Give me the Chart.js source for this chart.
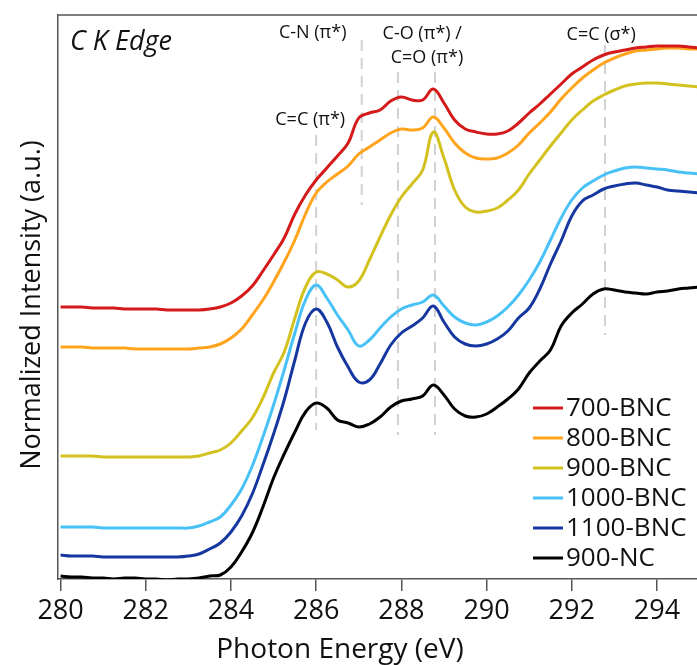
<!DOCTYPE html>
<html>
<head>
<meta charset="utf-8">
<script src="https://cdn.jsdelivr.net/npm/chart.js@4.4.1/dist/chart.umd.min.js"></script>
<style>
  body { margin: 0; background: #fff; }
</style>
</head>
<body>
<canvas id="grafico" width="697" height="665"></canvas>
<script>
// eixo x (eV)
const energia = [280, 280.25, 280.5, 280.75, 281, 281.25, 281.5, 281.75, 282, 282.25, 282.5, 282.75, 283, 283.25, 283.5, 283.75,
  284, 284.25, 284.5, 284.75, 285, 285.25, 285.5, 285.75, 286, 286.25, 286.5, 286.75, 287, 287.25, 287.5, 287.75,
  288, 288.25, 288.5, 288.75, 289, 289.25, 289.5, 289.75, 290, 290.25, 290.5, 290.75, 291, 291.25, 291.5, 291.75,
  292, 292.25, 292.5, 292.75, 293, 293.25, 293.5, 293.75, 294, 294.25, 294.5, 294.75, 295];

// intensidade normalizada (com deslocamento vertical)
const bnc700 = [2.72, 2.72, 2.72, 2.71, 2.71, 2.71, 2.70, 2.70, 2.70, 2.70, 2.69, 2.69, 2.69, 2.69, 2.70, 2.72,
  2.76, 2.83, 2.93, 3.08, 3.24, 3.41, 3.65, 3.84, 3.99, 4.11, 4.23, 4.36, 4.61, 4.66, 4.69, 4.78,
  4.82, 4.79, 4.79, 4.90, 4.76, 4.59, 4.50, 4.47, 4.45, 4.45, 4.48, 4.56, 4.66, 4.75, 4.85, 4.95,
  5.05, 5.12, 5.19, 5.24, 5.27, 5.29, 5.31, 5.32, 5.33, 5.33, 5.33, 5.32, 5.31];
const bnc800 = [2.32, 2.32, 2.32, 2.31, 2.31, 2.31, 2.31, 2.30, 2.30, 2.30, 2.30, 2.30, 2.30, 2.31, 2.32, 2.35,
  2.41, 2.50, 2.64, 2.79, 2.97, 3.17, 3.39, 3.65, 3.86, 3.97, 4.05, 4.13, 4.25, 4.32, 4.39, 4.46,
  4.50, 4.49, 4.51, 4.62, 4.51, 4.36, 4.26, 4.21, 4.20, 4.21, 4.26, 4.34, 4.46, 4.56, 4.67, 4.80,
  4.91, 5.01, 5.09, 5.16, 5.21, 5.25, 5.28, 5.29, 5.30, 5.31, 5.31, 5.30, 5.30];
const bnc900 = [1.23, 1.23, 1.23, 1.23, 1.22, 1.22, 1.22, 1.22, 1.22, 1.22, 1.22, 1.22, 1.22, 1.23, 1.26, 1.29,
  1.36, 1.48, 1.61, 1.81, 2.06, 2.27, 2.61, 2.92, 3.07, 3.05, 2.99, 2.92, 2.98, 3.19, 3.42, 3.64,
  3.82, 3.95, 4.09, 4.47, 4.21, 3.89, 3.72, 3.67, 3.68, 3.71, 3.79, 3.89, 4.05, 4.19, 4.33, 4.46,
  4.59, 4.69, 4.78, 4.84, 4.89, 4.93, 4.95, 4.96, 4.96, 4.95, 4.94, 4.93, 4.92];
const bnc1000 = [0.52, 0.52, 0.52, 0.52, 0.51, 0.51, 0.51, 0.51, 0.51, 0.51, 0.51, 0.51, 0.51, 0.53, 0.57, 0.62,
  0.74, 0.90, 1.13, 1.42, 1.74, 2.09, 2.46, 2.79, 2.94, 2.81, 2.64, 2.49, 2.33, 2.39, 2.51, 2.62,
  2.70, 2.74, 2.77, 2.84, 2.73, 2.62, 2.56, 2.54, 2.57, 2.63, 2.72, 2.84, 2.99, 3.17, 3.39, 3.61,
  3.79, 3.91, 3.98, 4.04, 4.08, 4.11, 4.12, 4.11, 4.10, 4.09, 4.07, 4.06, 4.05];
const bnc1100 = [0.24, 0.23, 0.23, 0.23, 0.22, 0.22, 0.22, 0.22, 0.22, 0.22, 0.22, 0.22, 0.23, 0.25, 0.30, 0.36,
  0.47, 0.63, 0.85, 1.14, 1.45, 1.79, 2.19, 2.56, 2.70, 2.57, 2.32, 2.12, 1.97, 1.99, 2.15, 2.34,
  2.46, 2.53, 2.61, 2.73, 2.57, 2.42, 2.35, 2.33, 2.35, 2.40, 2.48, 2.61, 2.71, 2.90, 3.15, 3.38,
  3.63, 3.78, 3.84, 3.90, 3.93, 3.95, 3.96, 3.94, 3.92, 3.89, 3.88, 3.87, 3.86];
const nc900 = [0.03, 0.02, 0.02, 0.01, 0.01, 0.00, 0.01, 0.01, 0.00, 0.00, -0.01, 0.00, 0.00, 0.01, 0.03, 0.04,
  0.12, 0.27, 0.46, 0.72, 1.01, 1.25, 1.47, 1.67, 1.76, 1.71, 1.59, 1.56, 1.52, 1.55, 1.62, 1.72,
  1.78, 1.80, 1.83, 1.94, 1.84, 1.70, 1.63, 1.62, 1.65, 1.72, 1.80, 1.90, 2.06, 2.18, 2.29, 2.53,
  2.66, 2.75, 2.85, 2.90, 2.89, 2.87, 2.86, 2.85, 2.87, 2.88, 2.90, 2.91, 2.92];

const rotulos = ['700-BNC', '800-BNC', '900-BNC', '1000-BNC', '1100-BNC', '900-NC'];
const cores = ['#d41a1a', '#ffa41c', '#d3c11f', '#48c2f6', '#1637a0', '#000000'];
const xTicks = [280, 282, 284, 286, 288, 290, 292, 294];

// linhas tracejadas das transicoes
const picoEnergia = [286.0, 287.07, 287.92, 288.79, 292.78];
const picoTopo = [4.44, 5.39, 5.07, 5.07, 5.34];
const picoBase = [1.49, 3.74, 1.44, 1.44, 2.44];

// textos das transicoes (centro em eV / intensidade)
const notaTexto = ['C-N (π*)', 'C=C (π*)', 'C-O (π*) /', 'C=O (π*)', 'C=C (σ*)'];
const notaX = [285.92, 285.86, 288.49, 288.60, 292.69];
const notaY = [5.46, 4.59, 5.45, 5.21, 5.44];

const fonte = '"Open Sans", "Noto Sans", sans-serif';

function montarSerie(valores) {
  return energia.map((e, i) => ({ x: e, y: valores[i] }));
}

const series = [bnc700, bnc800, bnc900, bnc1000, bnc1100, nc900];

const datasets = series.map((valores, i) => ({
  label: rotulos[i],
  data: montarSerie(valores),
  borderColor: cores[i],
  borderWidth: 3,
  pointRadius: 0,
  fill: false,
  tension: 0.4
}));

picoEnergia.forEach((e, i) => {
  datasets.push({
    label: 'pico' + i,
    data: [{ x: e, y: picoTopo[i] }, { x: e, y: picoBase[i] }],
    borderColor: '#d2d2d2',
    borderWidth: 2,
    borderDash: [11, 7],
    pointRadius: 0,
    fill: false
  });
});

//legenda, notas e titulos
const extras = {
  id: 'extras',
  afterDraw(chart) {
    const { ctx, chartArea, scales: { x, y } } = chart;
    ctx.save();

    // borda superior
    ctx.strokeStyle = '#555';
    ctx.lineWidth = 1.5;
    ctx.beginPath();
    ctx.moveTo(chartArea.left, chartArea.top);
    ctx.lineTo(chartArea.right, chartArea.top);
    ctx.stroke();

    ctx.fillStyle = '#111';
    ctx.textAlign = 'center';
    ctx.textBaseline = 'middle';
    ctx.font = '18px ' + fonte;
    notaTexto.forEach((t, i) => {
      ctx.fillText(t, x.getPixelForValue(notaX[i]), y.getPixelForValue(notaY[i]));
    });

    ctx.textAlign = 'left';
    ctx.textBaseline = 'alphabetic';
    ctx.font = 'italic 27px ' + fonte;
    ctx.fillText('C K Edge', x.getPixelForValue(280.22), y.getPixelForValue(5.29));

    // legenda
    ctx.font = '26px ' + fonte;
    ctx.textBaseline = 'middle';
    rotulos.forEach((r, i) => {
      const ly = 408 + i * 30;
      ctx.strokeStyle = cores[i];
      ctx.lineWidth = 3;
      ctx.beginPath();
      ctx.moveTo(533, ly);
      ctx.lineTo(563, ly);
      ctx.stroke();
      ctx.fillStyle = '#111';
      ctx.fillText(r, 566, ly + 1);
    });

    // titulos dos eixos
    ctx.font = '28px ' + fonte;
    ctx.textAlign = 'center';
    ctx.textBaseline = 'alphabetic';
    ctx.fillText('Photon Energy (eV)', 340, 658);

    ctx.font = '27px ' + fonte;
    ctx.translate(40, 305);
    ctx.rotate(-Math.PI / 2);
    ctx.fillText('Normalized Intensity (a.u.)', 0, 0);
    ctx.restore();
  }
};

new Chart(document.getElementById('grafico'), {
  type: 'line',
  data: { datasets: datasets },
  options: {
    responsive: false,
    animation: false,
    layout: { padding: { top: 15, right: 0, left: 0, bottom: 0 } },
    plugins: {
      legend: { display: false },
      tooltip: { enabled: false }
    },
    scales: {
      x: {
        type: 'linear',
        min: 279.94,
        max: 294.94,
        afterBuildTicks: s => { s.ticks = xTicks.map(v => ({ value: v })); },
        afterFit: s => { s.height = 86; },
        ticks: {
          font: { size: 27, family: fonte },
          color: '#111',
          padding: 4,
          maxRotation: 0,
          autoSkip: false
        },
        grid: {
          drawOnChartArea: false,
          drawTicks: true,
          tickLength: 12,
          color: '#555',
          lineWidth: 1.5
        },
        border: { display: true, color: '#555', width: 1.5 }
      },
      y: {
        min: 0,
        max: 5.64,
        afterFit: s => { s.width = 58; },
        ticks: { display: false },
        grid: { display: false },
        border: { display: true, color: '#555', width: 1.5 }
      }
    }
  },
  plugins: [extras]
});
</script>
</body>
</html>
